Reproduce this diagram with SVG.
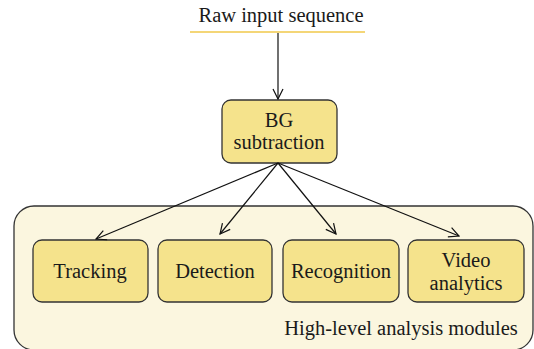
<svg xmlns="http://www.w3.org/2000/svg" width="534" height="349" viewBox="0 0 534 349">
<defs>
<style>
text{font-family:'Liberation Serif','DejaVu Serif',serif;font-size:20.5px;fill:#1a1a1a;text-anchor:middle}
.box{fill:#F5E38C;stroke:#333;stroke-width:1.3}
.edge{fill:none;stroke:#111;stroke-width:1.2;marker-end:url(#arr)}
</style>
<marker id="arr" viewBox="0 0 12 12" refX="11" refY="6" markerWidth="12" markerHeight="12" markerUnits="userSpaceOnUse" orient="auto">
<path d="M1,1 L11,6 L1,11" fill="none" stroke="#111" stroke-width="1.2"/>
</marker>
</defs>
<g id="container">
<rect x="14" y="206" width="519" height="144" rx="20" fill="#FBF6DF" stroke="#333" stroke-width="1.3"/>
<text x="401" y="335">High-level analysis modules</text>
</g>
<g id="input">
<text x="281" y="22">Raw input sequence</text>
<line x1="190" y1="32" x2="365" y2="32" stroke="#F0C94A" stroke-width="1.5"/>
</g>
<g id="bg">
<rect class="box" x="222" y="100" width="115" height="63" rx="9"/>
<text x="279" y="127">BG</text>
<text x="279" y="149">subtraction</text>
</g>
<g id="tracking">
<rect class="box" x="33" y="240" width="115" height="62" rx="9"/>
<text x="90" y="278">Tracking</text>
</g>
<g id="detection">
<rect class="box" x="158" y="240" width="114" height="62" rx="9"/>
<text x="215" y="278">Detection</text>
</g>
<g id="recognition">
<rect class="box" x="283" y="240" width="116" height="62" rx="9"/>
<text x="341" y="278">Recognition</text>
</g>
<g id="video">
<rect class="box" x="408" y="240" width="116" height="62" rx="9"/>
<text x="466" y="267">Video</text>
<text x="466" y="290">analytics</text>
</g>
<g id="connectors">
<line class="edge" x1="278" y1="33" x2="278" y2="99"/>
<line class="edge" x1="278" y1="163" x2="96" y2="239"/>
<line class="edge" x1="278" y1="163" x2="220" y2="234"/>
<line class="edge" x1="278" y1="163" x2="336" y2="234"/>
<line class="edge" x1="278" y1="163" x2="459" y2="236"/>
</g>
</svg>
